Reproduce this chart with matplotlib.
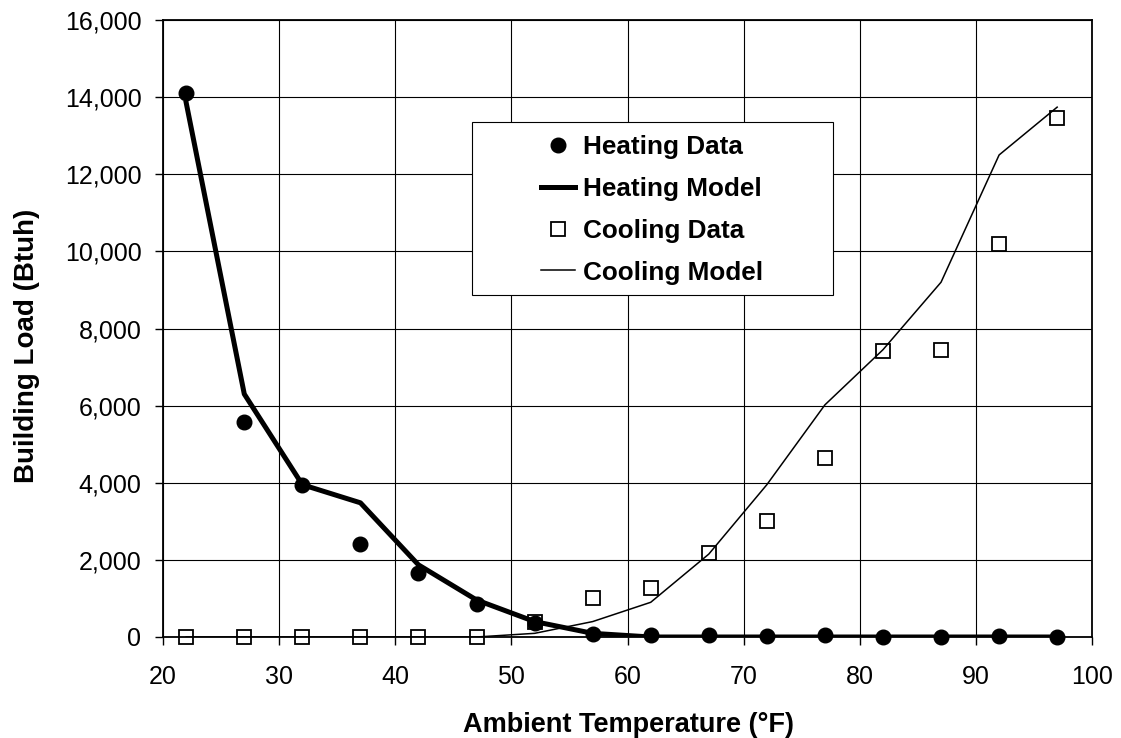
import matplotlib
matplotlib.use('Agg')
import matplotlib.pyplot as plt
from matplotlib.ticker import FuncFormatter
from matplotlib.patches import Rectangle

plt.rcParams['font.family'] = ['Liberation Sans', 'DejaVu Sans']

# data
temps = [22, 27, 32, 37, 42, 47, 52, 57, 62, 67, 72, 77, 82, 87, 92, 97]
heating_data = [14100, 5580, 3950, 2400, 1670, 860, 370, 80, 60, 45, 25, 40, 10, 10, 15, 10]
heating_model = [13850, 6300, 3950, 3480, 1870, 960, 400, 95, 0, 0, 0, 0, 0, 0, 0, 0]
cooling_data = [0, 0, 0, 0, 0, 0, 380, 1000, 1280, 2170, 3000, 4650, 7420, 7430, 10200, 13460]
cooling_model = [0, 0, 0, 0, 0, 0, 95, 400, 900, 2150, 3950, 6020, 7450, 9200, 12500, 13740]

x_ticks = [20, 30, 40, 50, 60, 70, 80, 90, 100]
y_ticks = [0, 2000, 4000, 6000, 8000, 10000, 12000, 14000, 16000]

W, H = 1121, 738
fig = plt.figure(figsize=(W / 100, H / 100), dpi=100)
ax = fig.add_axes([163 / W, 1 - 637 / H, (1092 - 163) / W, (637 - 20) / H])

ax.plot(temps, heating_data, 'o', color='black', markersize=10.5, label='Heating Data',
        zorder=4, clip_on=False)
ax.plot(temps, heating_model, '-', color='black', linewidth=3.6, label='Heating Model', zorder=3)
ax.plot(temps, cooling_data, 's', markerfacecolor='none', markeredgecolor='black',
        markeredgewidth=1.3, markersize=10.5, label='Cooling Data', zorder=5, clip_on=False)
ax.plot(temps, cooling_model, '-', color='black', linewidth=1.1, label='Cooling Model', zorder=3)

ax.set_xlim(20, 100)
ax.set_ylim(0, 16000)
ax.set_xticks(x_ticks)
ax.set_yticks(y_ticks)
ax.yaxis.set_major_formatter(FuncFormatter(lambda v, p: '{:,.0f}'.format(v)))
ax.tick_params(direction='out', length=6, width=1, labelsize=18)
ax.tick_params(axis='y', pad=9.5)
ax.tick_params(axis='x', pad=14)
ax.grid(True, color='black', linewidth=0.8)
ax.set_axisbelow(True)
for s in ax.spines.values():
    s.set_linewidth(1.3)

ax.set_xlabel('Ambient Temperature (°F)', fontsize=19.5, fontweight='bold')
ax.set_ylabel('Building Load (Btuh)', fontsize=20, fontweight='bold')
ax.xaxis.set_label_coords(0.5016, -0.154)
ax.xaxis.label.set_verticalalignment('baseline')
ax.yaxis.set_label_coords(-0.1465, 0.4724)
ax.yaxis.label.set_verticalalignment('center')

# legend box (drawn separately to get the wide left margin)
box = Rectangle((472 / W, 1 - 295 / H), (833 - 472) / W, (295 - 122) / H,
                transform=fig.transFigure, facecolor='white', edgecolor='black',
                linewidth=0.8, zorder=6, clip_on=False)
ax.add_patch(box)
leg = ax.legend(loc='upper left', bbox_to_anchor=(523 / W, 1 - 117 / H),
                bbox_transform=fig.transFigure, frameon=False,
                prop={'weight': 'bold', 'size': 18.8}, handlelength=1.3,
                handletextpad=0.3, labelspacing=0.68, borderpad=0.2)
leg.set_zorder(7)

fig.savefig('out.png', dpi=100)
